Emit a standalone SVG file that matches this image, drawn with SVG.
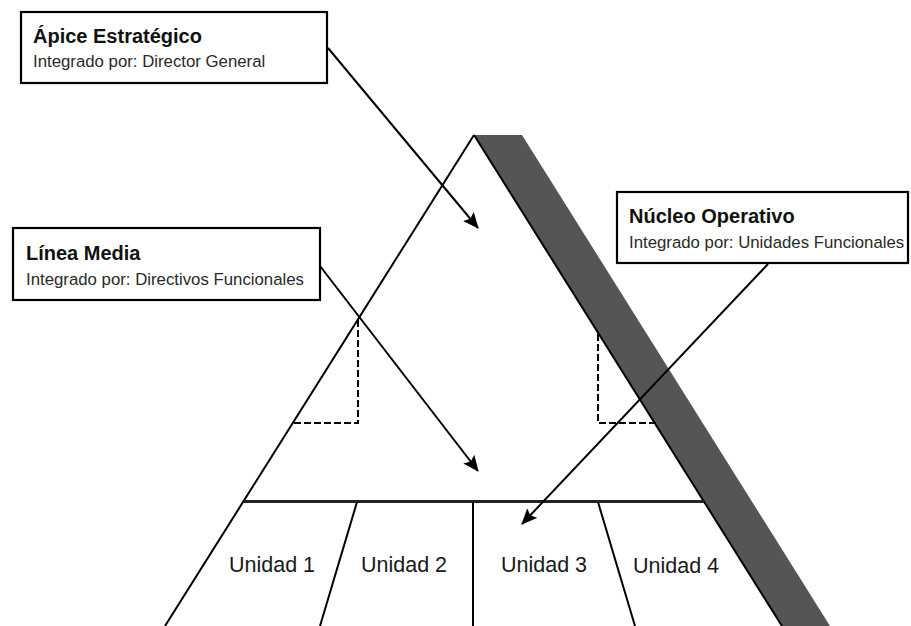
<svg xmlns="http://www.w3.org/2000/svg" width="911" height="626" viewBox="0 0 911 626">
  <style>
    .box { fill: #ffffff; stroke: #000000; stroke-width: 2.2; }
    .title { font-family: "Liberation Sans", Arial, sans-serif; font-weight: bold; font-size: 20px; fill: #111111; }
    .sub { font-family: "Liberation Sans", Arial, sans-serif; font-size: 16.8px; fill: #2a2a2a; }
    .unit { font-family: "Liberation Sans", Arial, sans-serif; font-size: 21.5px; fill: #1a1a1a; text-anchor: middle; }
    .edge { stroke: #000000; stroke-width: 2; fill: none; }
    .dash { stroke: #000000; stroke-width: 2; fill: none; stroke-dasharray: 7 3; }
    .conn { stroke: #000000; stroke-width: 2; fill: none; marker-end: url(#arrow); }
  </style>
  <defs>
    <marker id="arrow" markerUnits="userSpaceOnUse" markerWidth="16" markerHeight="14" viewBox="0 0 16 14" refX="15" refY="7" orient="auto">
      <path d="M0,0 L16,7 L0,14 L3,7 Z" fill="#000000"/>
    </marker>
  </defs>
  <rect width="911" height="626" fill="#ffffff"/>

  <g id="pyramid">
    <polygon points="474,135 522,135 830,626 782,626" fill="#555555"/>
    <line class="edge" x1="474" y1="135" x2="165" y2="626"/>
    <line class="edge" x1="474" y1="135" x2="782" y2="626"/>
    <line x1="244" y1="501.5" x2="704" y2="501.5" stroke="#222222" stroke-width="3"/>
    <polyline class="dash" points="358,320 358,423 293,423"/>
    <polyline class="dash" points="598,334 598,423 657,423"/>
  </g>

  <g id="unidad1">
    <text class="unit" x="272" y="572">Unidad 1</text>
  </g>
  <g id="unidad2">
    <line class="edge" x1="357" y1="502" x2="320" y2="626"/>
    <text class="unit" x="404" y="572">Unidad 2</text>
  </g>
  <g id="unidad3">
    <line class="edge" x1="473" y1="502" x2="473" y2="626"/>
    <text class="unit" x="544" y="572">Unidad 3</text>
  </g>
  <g id="unidad4">
    <line class="edge" x1="598" y1="502" x2="635" y2="626"/>
    <text class="unit" x="676" y="573">Unidad 4</text>
  </g>

  <g id="apice">
    <rect class="box" x="21" y="12" width="306" height="71"/>
    <text class="title" x="33" y="43">Ápice Estratégico</text>
    <text class="sub" x="33" y="67">Integrado por: Director General</text>
  </g>
  <g id="linea-media">
    <rect class="box" x="13" y="228" width="307" height="72"/>
    <text class="title" x="26" y="260">Línea Media</text>
    <text class="sub" x="26" y="285">Integrado por: Directivos Funcionales</text>
  </g>
  <g id="nucleo">
    <rect class="box" x="617" y="192" width="291" height="71"/>
    <text class="title" x="629" y="223">Núcleo Operativo</text>
    <text class="sub" x="629" y="248">Integrado por: Unidades Funcionales</text>
  </g>

  <g id="connectors">
    <line class="conn" x1="328" y1="48" x2="478" y2="228"/>
    <line class="conn" x1="320" y1="266" x2="478" y2="471"/>
    <line class="conn" x1="768" y1="264" x2="522" y2="524"/>
  </g>
</svg>
